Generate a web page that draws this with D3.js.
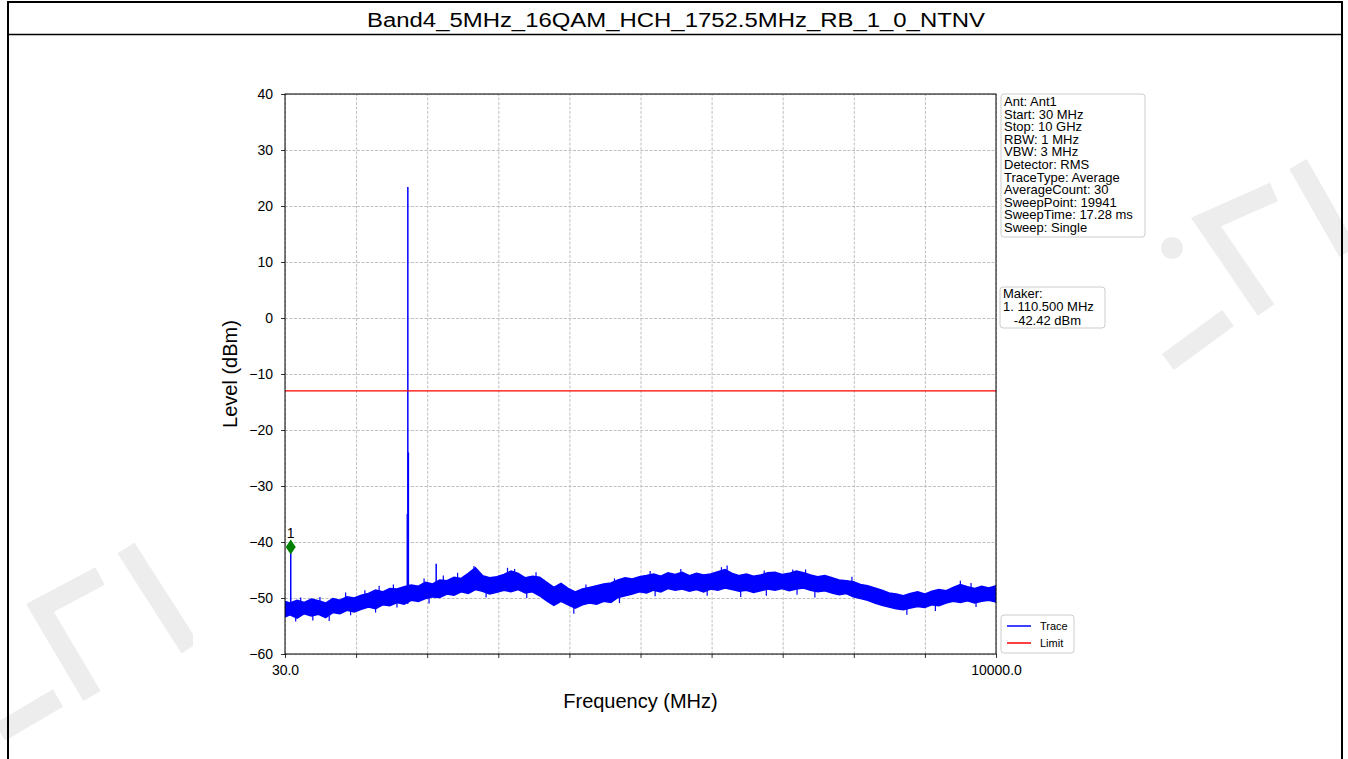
<!DOCTYPE html>
<html>
<head>
<meta charset="utf-8">
<script src="https://cdn.jsdelivr.net/npm/d3@7"></script>
<style>
  body { margin: 0; background: #fff; }
  text { font-family: "Liberation Sans", Arial, sans-serif; fill: #000; }
</style>
</head>
<body>
<svg id="chart"></svg>
<script>
// Page size
var W = 1348, H = 759;

var title = "Band4_5MHz_16QAM_HCH_1752.5MHz_RB_1_0_NTNV";

// Noise floor of the trace (MHz, dBm)
var noiseFreq = [30, 100, 200, 300, 400, 500, 600, 700, 800, 900,
  1000, 1100, 1200, 1300, 1400, 1500, 1600, 1700, 1800, 1900,
  2000, 2100, 2200, 2300, 2400, 2500, 2600, 2700, 2800, 2900,
  3000, 3100, 3200, 3300, 3400, 3500, 3600, 3700, 3800, 3900,
  4000, 4100, 4200, 4300, 4400, 4500, 4600, 4700, 4800, 4900,
  5000, 5100, 5200, 5300, 5400, 5500, 5600, 5700, 5800, 5900,
  6000, 6100, 6200, 6300, 6400, 6500, 6600, 6700, 6800, 6900,
  7000, 7100, 7200, 7300, 7400, 7500, 7600, 7700, 7800, 7900,
  8000, 8100, 8200, 8300, 8400, 8500, 8600, 8700, 8800, 8900,
  9000, 9100, 9200, 9300, 9400, 9500, 9600, 9700, 9800, 9900, 10000];
var noiseLow = [-53.4, -53.0, -53.6, -52.8, -53.2, -52.9, -53.5, -52.6, -52.8, -52.2,
  -52.5, -52.0, -51.6, -51.9, -51.2, -51.4, -50.8, -51.1, -50.4, -50.6,
  -50.1, -49.8, -49.9, -49.3, -49.5, -48.9, -49.2, -48.5, -48.8, -49.3,
  -49.0, -48.6, -48.9, -48.5, -49.1, -48.9, -49.6, -50.5, -51.3, -50.6,
  -51.2, -51.8, -51.2, -50.9, -51.1, -50.6, -50.8, -49.9, -49.6, -49.3,
  -48.9, -49.1, -48.6, -48.9, -48.3, -48.6, -48.4, -48.8, -48.5, -48.9,
  -48.4, -48.6, -48.2, -48.5, -48.8, -48.6, -49.0, -48.7, -48.4, -48.6,
  -48.3, -48.7, -48.4, -48.2, -48.6, -48.9, -48.7, -49.1, -49.4, -49.2,
  -49.8, -50.1, -50.4, -50.9, -51.3, -51.6, -51.9, -52.1, -51.8, -51.5,
  -51.7, -51.2, -51.4, -50.9, -50.6, -50.8, -50.5, -50.9, -50.6, -50.4, -50.7];
var noiseHigh = [-50.6, -50.9, -50.4, -50.8, -50.2, -50.5, -50.9, -50.1, -50.4, -49.8,
  -50.0, -49.5, -49.2, -48.6, -48.9, -48.3, -48.4, -48.0, -47.7, -47.9,
  -47.2, -47.5, -46.8, -46.9, -46.3, -46.5, -45.6, -44.6, -46.0, -46.4,
  -46.2, -45.8, -45.2, -45.6, -46.4, -46.1, -46.3, -47.2, -48.1, -47.4,
  -48.3, -48.9, -48.4, -48.1, -47.8, -47.5, -47.3, -46.8, -46.4, -46.6,
  -46.2, -46.0, -45.7, -46.1, -45.5, -45.8, -45.4, -46.0, -45.6, -45.9,
  -45.7, -45.3, -44.9, -45.6, -46.0, -45.7, -46.1, -45.9, -45.5, -45.4,
  -45.8, -45.6, -45.2, -45.5, -45.9, -46.2, -46.0, -46.4, -46.8, -46.9,
  -47.1, -47.6, -47.8, -48.2, -48.6, -49.1, -49.3, -49.6, -49.2, -48.9,
  -49.3, -48.8, -48.5, -48.7, -48.1, -47.6, -48.0, -48.3, -47.9, -48.2, -47.8];

// Short noise spikes poking out of the band (MHz, dBm)
var fuzzUpFreq  = [250, 520, 880, 1150, 1350, 1550, 1980, 2250, 2450, 2680, 3150, 3250, 3550,
  4250, 4650, 5150, 5580, 6150, 6230, 6750, 7150, 7330, 7980, 9500, 9650];
var fuzzUpLevel = [-49.9, -49.8, -49.0, -48.6, -47.8, -47.6, -46.5, -46.0, -45.5, -44.3, -44.6, -44.8, -45.4,
  -47.6, -46.5, -45.2, -44.8, -44.5, -44.2, -45.1, -44.9, -44.9, -46.2, -46.9, -47.3];
var fuzzDownFreq  = [180, 420, 650, 950, 1300, 1600, 2050, 2850, 3420, 4080, 4720, 5220,
  5950, 6420, 6780, 7210, 7460, 8750, 9150, 9720];
var fuzzDownLevel = [-54.2, -54.0, -54.1, -53.1, -52.6, -51.7, -51.0, -49.9, -50.0, -52.8, -50.9, -49.7,
  -49.6, -49.8, -49.6, -49.4, -49.9, -53.0, -52.3, -51.6];

// Narrow peaks standing out of the floor
var peakFreq  = [110.5, 1745, 1752.5, 1760, 2150];
var peakLevel = [-40.9, -35, 23.4, -24, -43.9];
var peakBase  = [-52.8, -51.0, -51.0, -50.2, -49.8];

var limitLevel = -13;
var markerFreq = 110.5, markerLevel = -40.9;

var yTicks = [-60, -50, -40, -30, -20, -10, 0, 10, 20, 30, 40];
var xTicks = [30, 1027, 2024, 3021, 4018, 5015, 6012, 7009, 8006, 9003, 10000];
var xTickLabels = { 30: "30.0", 10000: "10000.0" };

var infoLines = ["Ant: Ant1", "Start: 30 MHz", "Stop: 10 GHz", "RBW: 1 MHz", "VBW: 3 MHz",
  "Detector: RMS", "TraceType: Average", "AverageCount: 30", "SweepPoint: 19941",
  "SweepTime: 17.28 ms", "Sweep: Single"];
var makerLines = ["Maker:", "1. 110.500 MHz", "   -42.42 dBm"];
var legendNames = ["Trace", "Limit"];
var legendColors = ["#0000ff", "#ff0000"];

var svg = d3.select("#chart").attr("width", W).attr("height", H);

// ---------- watermark (faint strokes at the sides) ----------
var wm = svg.append("g")
  .attr("fill", "none")
  .attr("stroke", "#ededed")
  .attr("stroke-width", 20)
  .attr("stroke-linecap", "butt");
var wmPaths = [
  "M100,576 L40,608 L92,696",
  "M126,548 L190,648",
  "M0,732 L58,698",
  "M1274,192 L1206,222 L1266,310",
  "M1298,164 L1348,252",
  "M1168,362 L1228,318"
];
wm.selectAll("path").data(wmPaths).enter().append("path").attr("d", function(d) { return d; });
svg.append("circle").attr("cx", 1172).attr("cy", 248).attr("r", 11).attr("fill", "#ededed");

// white figure area
svg.append("rect").attr("x", 193).attr("y", 35).attr("width", 967).attr("height", H - 35).attr("fill", "#fff");

// ---------- frame + title ----------
svg.append("line").attr("x1", 7).attr("x2", 1343).attr("y1", 2).attr("y2", 2).attr("stroke", "#000").attr("stroke-width", 2);
svg.append("line").attr("x1", 7).attr("x2", 1343).attr("y1", 34.5).attr("y2", 34.5).attr("stroke", "#000").attr("stroke-width", 1.5);
svg.append("line").attr("x1", 8).attr("x2", 8).attr("y1", 1).attr("y2", H).attr("stroke", "#000").attr("stroke-width", 2);
svg.append("line").attr("x1", 1342).attr("x2", 1342).attr("y1", 1).attr("y2", H).attr("stroke", "#000").attr("stroke-width", 2);

svg.append("text")
  .attr("x", 676).attr("y", 27)
  .attr("text-anchor", "middle")
  .attr("font-size", "20px")
  .attr("textLength", 618)
  .attr("lengthAdjust", "spacingAndGlyphs")
  .text(title);

// ---------- plot area ----------
var margin = { top: 94, left: 285 },
    width = 711,
    height = 560;
var g = svg.append("g").attr("transform", "translate(" + margin.left + "," + margin.top + ")");

var x = d3.scaleLinear().domain([30, 10000]).range([0, width]);
var y = d3.scaleLinear().domain([-60, 40]).range([height, 0]);

// grid
g.append("g")
  .attr("class", "grid")
  .attr("transform", "translate(0," + height + ")")
  .call(d3.axisBottom(x).tickValues(xTicks).tickSize(-height).tickFormat(""));
g.append("g")
  .attr("class", "grid")
  .call(d3.axisLeft(y).tickValues(yTicks).tickSize(-width).tickFormat(""));
g.selectAll(".grid .domain").remove();
g.selectAll(".grid line")
  .attr("stroke", "#b0b0b0")
  .attr("stroke-width", 0.8)
  .attr("stroke-dasharray", "3,1.5");

g.append("clipPath").attr("id", "plotclip")
  .append("rect").attr("width", width).attr("height", height);
var plot = g.append("g").attr("clip-path", "url(#plotclip)");

// noise floor band
var noise = noiseFreq.map(function(f, i) { return { f: f, lo: noiseLow[i], hi: noiseHigh[i] }; });
var band = d3.area()
  .x(function(d) { return x(d.f); })
  .y0(function(d) { return y(d.lo); })
  .y1(function(d) { return y(d.hi); });
plot.append("path")
  .datum(noise)
  .attr("fill", "#0000ff")
  .attr("stroke", "#0000ff")
  .attr("stroke-width", 1.5)
  .attr("stroke-linejoin", "miter")
  .attr("d", band);

// little noise spikes on both edges of the band
plot.selectAll(".fuzzUp")
  .data(fuzzUpFreq)
  .enter().append("line")
  .attr("class", "fuzzUp")
  .attr("x1", function(d) { return x(d); })
  .attr("x2", function(d) { return x(d); })
  .attr("y1", function(d, i) { return y(fuzzUpLevel[i]); })
  .attr("y2", function(d, i) { return y(fuzzUpLevel[i] - 2); })
  .attr("stroke", "#0000ff")
  .attr("stroke-width", 1.2);
plot.selectAll(".fuzzDown")
  .data(fuzzDownFreq)
  .enter().append("line")
  .attr("class", "fuzzDown")
  .attr("x1", function(d) { return x(d); })
  .attr("x2", function(d) { return x(d); })
  .attr("y1", function(d, i) { return y(fuzzDownLevel[i]); })
  .attr("y2", function(d, i) { return y(fuzzDownLevel[i] + 2); })
  .attr("stroke", "#0000ff")
  .attr("stroke-width", 1.2);

// peaks
plot.selectAll(".peak")
  .data(peakFreq)
  .enter().append("line")
  .attr("class", "peak")
  .attr("x1", function(d) { return x(d); })
  .attr("x2", function(d) { return x(d); })
  .attr("y1", function(d, i) { return y(peakBase[i]); })
  .attr("y2", function(d, i) { return y(peakLevel[i]); })
  .attr("stroke", "#0000ff")
  .attr("stroke-width", 1.5);

// limit
plot.append("line")
  .attr("x1", 0).attr("x2", width)
  .attr("y1", y(limitLevel)).attr("y2", y(limitLevel))
  .attr("stroke", "#ff0000")
  .attr("stroke-width", 1.2);

// marker
var mx = x(markerFreq), my = y(markerLevel);
g.append("path")
  .attr("d", "M" + mx + "," + (my - 7.5) + "L" + (mx + 5) + "," + my + "L" + mx + "," + (my + 7.5) + "L" + (mx - 5) + "," + my + "Z")
  .attr("fill", "#008000");
g.append("text")
  .attr("x", mx).attr("y", my - 9)
  .attr("text-anchor", "middle")
  .attr("font-size", "14px")
  .text("1");

// axes
var xAxis = d3.axisBottom(x).tickValues(xTicks).tickSize(4).tickPadding(7)
  .tickFormat(function(d) { return xTickLabels[d] || ""; });
var yAxis = d3.axisLeft(y).tickValues(yTicks).tickSize(4).tickPadding(8);

var gx = g.append("g").attr("transform", "translate(0," + height + ")").call(xAxis);
var gy = g.append("g").call(yAxis);
[gx, gy].forEach(function(a) {
  a.select(".domain").remove();
  a.selectAll("line").attr("stroke", "#000").attr("stroke-width", 0.8);
  a.selectAll("text").attr("font-size", "14px").attr("font-family", "Liberation Sans, Arial, sans-serif").attr("fill", "#000");
});

// spines
g.append("rect")
  .attr("width", width).attr("height", height)
  .attr("fill", "none").attr("stroke", "#000").attr("stroke-width", 1);

// axis titles
svg.append("text")
  .attr("x", margin.left + width / 2).attr("y", 708)
  .attr("text-anchor", "middle").attr("font-size", "20px")
  .text("Frequency (MHz)");
svg.append("text")
  .attr("transform", "translate(237," + (margin.top + height / 2) + ") rotate(-90)")
  .attr("text-anchor", "middle").attr("font-size", "20px")
  .text("Level (dBm)");

// ---------- info boxes ----------
function textBox(lines, bx, by, bw, bh, firstBase, step) {
  svg.append("rect")
    .attr("x", bx).attr("y", by).attr("width", bw).attr("height", bh)
    .attr("rx", 3).attr("fill", "#fff").attr("stroke", "#cccccc").attr("stroke-width", 1);
  svg.selectAll(null).data(lines).enter().append("text")
    .attr("x", bx + 3)
    .attr("y", function(d, i) { return firstBase + i * step; })
    .attr("font-size", "13px")
    .style("white-space", "pre")
    .text(function(d) { return d; });
}
textBox(infoLines, 1001, 94, 144, 143, 106, 12.6);
textBox(makerLines, 1000, 287, 105, 41, 298, 13.4);

// legend
var lg = svg.append("g").attr("transform", "translate(1001,615)");
lg.append("rect").attr("width", 73).attr("height", 38).attr("rx", 3)
  .attr("fill", "#fff").attr("stroke", "#cccccc");
legendNames.forEach(function(name, i) {
  lg.append("line").attr("x1", 6).attr("x2", 30).attr("y1", 11 + i * 17).attr("y2", 11 + i * 17)
    .attr("stroke", legendColors[i]).attr("stroke-width", 1.5);
  lg.append("text").attr("x", 39).attr("y", 15 + i * 17).attr("font-size", "11px").text(name);
});
</script>
</body>
</html>
